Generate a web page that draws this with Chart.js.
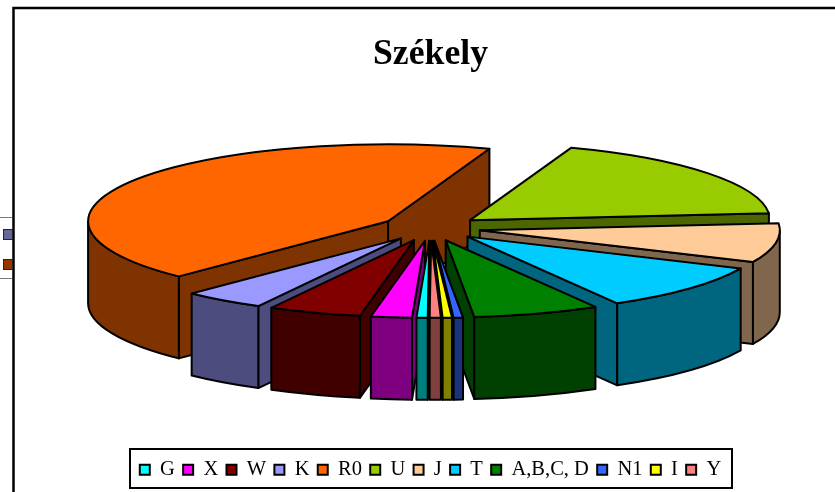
<!DOCTYPE html>
<html><head><meta charset="utf-8">
<style>html,body{margin:0;padding:0;background:#fff}canvas{display:block}</style>
<script src="https://cdn.jsdelivr.net/npm/chart.js@4"></script>
</head><body><div style="width:835px;height:492px"><canvas id="c" width="835" height="492"></canvas></div>
<script>
const labels = ['G','X','W','K','R0','U','J','T','A,B,C, D','N1','I','Y'];
const values = [0.6,2.2,5.0,4.4,43.2,18.1,8.2,9.9,6.8,0.5,0.5,0.6];
const topColors = ['#00FFFF','#FF00FF','#800000','#9999FF','#FF6600','#99CC00','#FFCC99','#00CCFF','#008000','#3366FF','#FFFF00','#FF8080'];
const paintOrder = ['R0','U','J','T','K','A,B,C, D','W','N1','I','X','Y','G'];
const titleText = 'Székely';

const TILT = 77/300, DEPTH = 82, EXPLODE = 1/6, CENTER_Y = 228;

function darken(hex){
  const n = parseInt(hex.slice(1),16);
  return `rgb(${(n>>16&255)>>1},${(n>>8&255)>>1},${(n&255)>>1})`;
}

const pie3d = {
  id:'pie3d',
  beforeDraw(chart){
    const ctx = chart.ctx;
    ctx.save();
    ctx.strokeStyle='#000'; ctx.lineWidth=2.5;
    ctx.beginPath(); ctx.moveTo(13.5,492); ctx.lineTo(13.5,8); ctx.lineTo(835,8); ctx.stroke();
    ctx.strokeStyle='#777'; ctx.lineWidth=1;
    ctx.beginPath(); ctx.moveTo(0,217.5); ctx.lineTo(12,217.5); ctx.moveTo(0,278.5); ctx.lineTo(12,278.5); ctx.stroke();
    ctx.strokeStyle='#222'; ctx.lineWidth=1;
    ctx.fillStyle='#666699'; ctx.fillRect(3,229,9,10); ctx.strokeRect(3.5,229.5,9,10);
    ctx.fillStyle='#993300'; ctx.fillRect(3,259,9,10); ctx.strokeRect(3.5,259.5,9,10);
    ctx.restore();
  },
  beforeDatasetDraw(chart,args){
    const ctx = chart.ctx, arcs = args.meta.data;
    ctx.save();
    ctx.lineWidth = 2; ctx.lineJoin='round'; ctx.strokeStyle='#000';
    paintOrder.forEach(name=>{
      const i = labels.indexOf(name), el = arcs[i];
      const R = el.outerRadius, a = el.startAngle, b = el.endAngle, m=(a+b)/2;
      const ax = el.x + Math.cos(m)*R*EXPLODE, ay = CENTER_Y + Math.sin(m)*R*EXPLODE*TILT;
      const px = t=>ax+Math.cos(t)*R, py = t=>ay+Math.sin(t)*R*TILT;
      const side = darken(topColors[i]);
      const quad = t=>{
        ctx.beginPath(); ctx.moveTo(ax,ay); ctx.lineTo(px(t),py(t));
        ctx.lineTo(px(t),py(t)+DEPTH); ctx.lineTo(ax,ay+DEPTH); ctx.closePath();
        ctx.fillStyle=side; ctx.fill(); ctx.stroke();
      };
      if(Math.cos(a)<0) quad(a);
      if(Math.cos(b)>0) quad(b);
      const TAU=2*Math.PI;
      for(const k of [-1,0,1]){
        const s=Math.max(a,k*TAU), e=Math.min(b,k*TAU+Math.PI);
        if(e>s){
          ctx.beginPath(); ctx.ellipse(ax,ay,R,R*TILT,0,s,e);
          ctx.ellipse(ax,ay+DEPTH,R,R*TILT,0,e,s,true); ctx.closePath();
          ctx.fillStyle=side; ctx.fill(); ctx.stroke();
        }
      }
      ctx.beginPath(); ctx.moveTo(ax,ay); ctx.ellipse(ax,ay,R,R*TILT,0,a,b); ctx.closePath();
      ctx.fillStyle=topColors[i]; ctx.fill(); ctx.stroke();
    });
    ctx.restore();
    return false;
  },
  afterDraw(chart){
    const ctx=chart.ctx;
    ctx.save(); ctx.strokeStyle='#000'; ctx.lineWidth=2;
    ctx.strokeRect(130,449,602,39);
    ctx.restore();
  }
};

new Chart(document.getElementById('c'),{
  type:'pie',
  data:{labels,datasets:[{data:values,backgroundColor:topColors,borderColor:'#000',borderWidth:2,radius:300}]},
  plugins:[pie3d],
  options:{
    responsive:false,animation:false,
    rotation:180.3,
    layout:{padding:{left:26,right:0,top:0,bottom:2}},
    plugins:{
      tooltip:{enabled:false},
      title:{display:true,text:titleText,color:'#000',padding:{top:33,bottom:10},
        font:{family:'"Liberation Serif"',size:35.7,weight:'bold'}},
      legend:{position:'bottom',labels:{color:'#000',boxWidth:10,boxHeight:10,padding:8.3,
        font:{family:'"Liberation Serif"',size:20.5}}}
    }
  }
});
</script></body></html>
